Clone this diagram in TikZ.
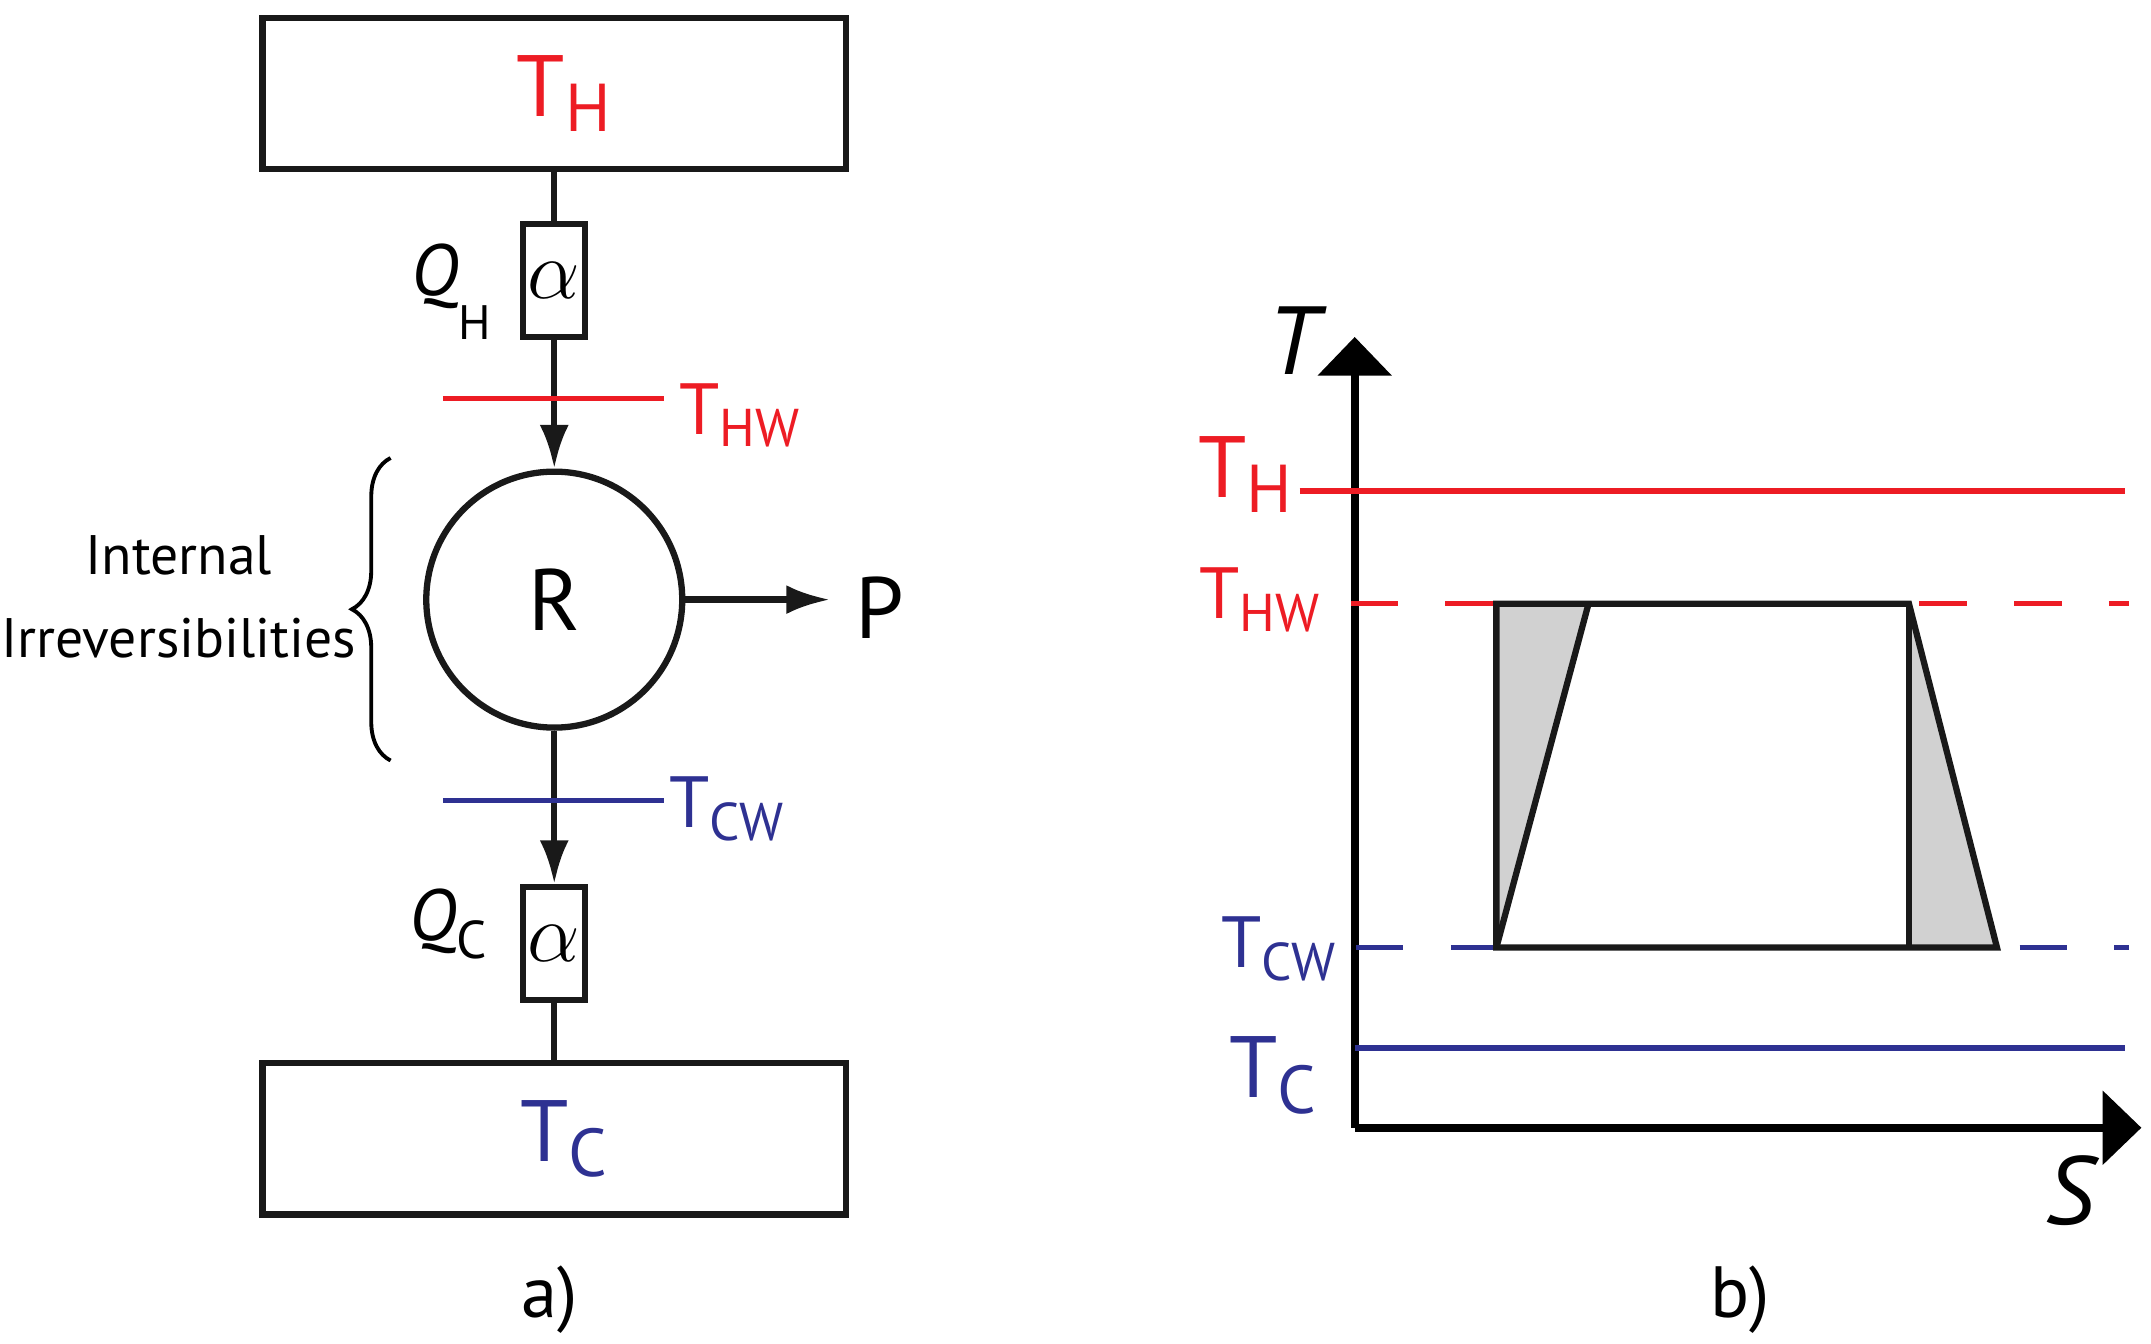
\documentclass[tikz,border=0pt]{standalone}
\usepackage{fontspec}
\setmainfont{PT Sans}
\usetikzlibrary{arrows.meta,decorations.pathreplacing}
\definecolor{myred}{RGB}{237,28,36}
\definecolor{myblue}{RGB}{46,49,146}
\newcommand{\Tsub}[4]{{\fontsize{#3}{#3}\selectfont #1\raisebox{-0.35ex}{\fontsize{#4}{#4}\selectfont #2}}}
\begin{document}
\begin{tikzpicture}[x=0.01cm,y=-0.01cm,
  blk/.style={line width=1.3pt,draw=black!90},
  box/.style={blk,rectangle,inner sep=0pt},
  arr/.style={blk,-{Latex[length=9pt,width=6pt]}},
  hl/.style={line width=1.1pt},
  dsh/.style={line width=1.1pt,dash pattern=on 9.8pt off 9.8pt}]
\useasboundingbox (0,0) rectangle (1564,977);
% ---- left
\node[box,minimum width=4.24cm,minimum height=1.1cm] (top) at (403,68) {};
\node[text=myred] (th) at (410,68) {\Tsub{T}{H}{18}{14}};
\node[box,minimum width=0.45cm,minimum height=0.82cm] (a1) at (403,204) {\fontsize{17}{17}\selectfont$\alpha$};
\node (qh) at (328,212) {\fontsize{15}{15}\selectfont\itshape Q\upshape\raisebox{-1.2ex}{\fontsize{10}{10}\selectfont H}};
\node[blk,circle,minimum size=1.86cm,inner sep=0pt] (R) at (403,436) {\fontsize{18}{18}\selectfont R};
\node (P) at (640,442) {\fontsize{18}{18}\selectfont P};
\node[box,minimum width=0.45cm,minimum height=0.82cm] (a2) at (403,686) {\fontsize{17}{17}\selectfont$\alpha$};
\node (qc) at (326,672) {\fontsize{15}{15}\selectfont\itshape Q\upshape\raisebox{-0.5ex}{\fontsize{11}{11}\selectfont C}};
\node[box,minimum width=4.24cm,minimum height=1.1cm] (bot) at (403,828) {};
\node[text=myblue] (tc) at (410,828) {\Tsub{T}{C}{18}{14}};
\draw[blk] (top.south) -- (a1.north);
\draw[arr] (a1.south) -- (R.north);
\draw[arr] (R.south) -- (a2.north);
\draw[blk] (a2.south) -- (bot.north);
\draw[arr] (R.east) -- ++(105,0) coordinate (pe);
\coordinate (hw1) at (322,290); \coordinate (hw2) at (483,290);
\draw[hl,myred] (hw1) -- (hw2);
\node[text=myred,anchor=west,inner sep=0pt] (thw) at (493,302) {\Tsub{T}{HW}{15}{11}};
\coordinate (cw1) at (322,582); \coordinate (cw2) at (483,582);
\draw[hl,myblue] (cw1) -- (cw2);
\node[text=myblue,anchor=west,inner sep=0pt] (tcw) at (486,588) {\Tsub{T}{CW}{15}{11}};
\coordinate (b1) at (284,553); \coordinate (b2) at (284,333);
\draw[line width=0.8pt,decorate,decoration={brace,amplitude=8pt}] (b1) -- (b2);
\node[align=center,font=\fontsize{11.5}{17}\selectfont] (ii) at (130,434) {Internal\\Irreversibilities};
\node[font=\fontsize{15}{15}\selectfont] (la) at (400,945) {a)};
% ---- right
\coordinate (o) at (985,820);
\coordinate (ty) at (985,245);
\coordinate (sx) at (1557,820);
\draw[line width=1.6pt,-{Triangle[length=8pt,width=15pt]}] (o) -- (ty);
\draw[line width=1.6pt,-{Triangle[length=8pt,width=15pt]}] (o) -- (sx);
\node (T) at (940,248) {\fontsize{20}{20}\selectfont\itshape T};
\node (S) at (1505,866) {\fontsize{20}{20}\selectfont\itshape S};
\draw[hl,myred] (945,357) coordinate (h1) -- (1545,357) coordinate (h2);
\node[text=myred,anchor=east,inner sep=0pt] (th2) at (940,345) {\Tsub{T}{H}{18}{14}};
\draw[dsh,myred] (982,439) coordinate (hw3) -- (1548,439) coordinate (hw4);
\node[text=myred,anchor=east,inner sep=0pt] (thw2) at (960,436) {\Tsub{T}{HW}{15}{11}};
\draw[dsh,myblue] (986,689) coordinate (cw3) -- (1548,689) coordinate (cw4);
\node[text=myblue,anchor=east,inner sep=0pt] (tcw2) at (972,690) {\Tsub{T}{CW}{15}{11}};
\draw[hl,myblue] (985,762) coordinate (c1) -- (1545,762) coordinate (c2);
\node[text=myblue,anchor=east,inner sep=0pt] (tc2) at (958,782) {\Tsub{T}{C}{18}{14}};
\coordinate (p1) at (1088,439); \coordinate (p2) at (1155,439);
\coordinate (p3) at (1388,439); \coordinate (p4) at (1452,689);
\coordinate (p5) at (1388,689); \coordinate (p6) at (1088,689);
\fill[white] (p1) -- (p3) -- (p4) -- (p6) -- cycle;
\fill[black!18] (p1) -- (p2) -- (p6) -- cycle;
\fill[black!18] (p3) -- (p4) -- (p5) -- cycle;
\draw[blk,line join=miter] (p6) -- (p1) -- (p3) -- (p4) -- cycle;
\draw[blk] (p2) -- (p6);
\draw[blk] (p3) -- (p5);
\node[font=\fontsize{15}{15}\selectfont] (lb) at (1265,945) {b)};
\end{tikzpicture}
\end{document}
